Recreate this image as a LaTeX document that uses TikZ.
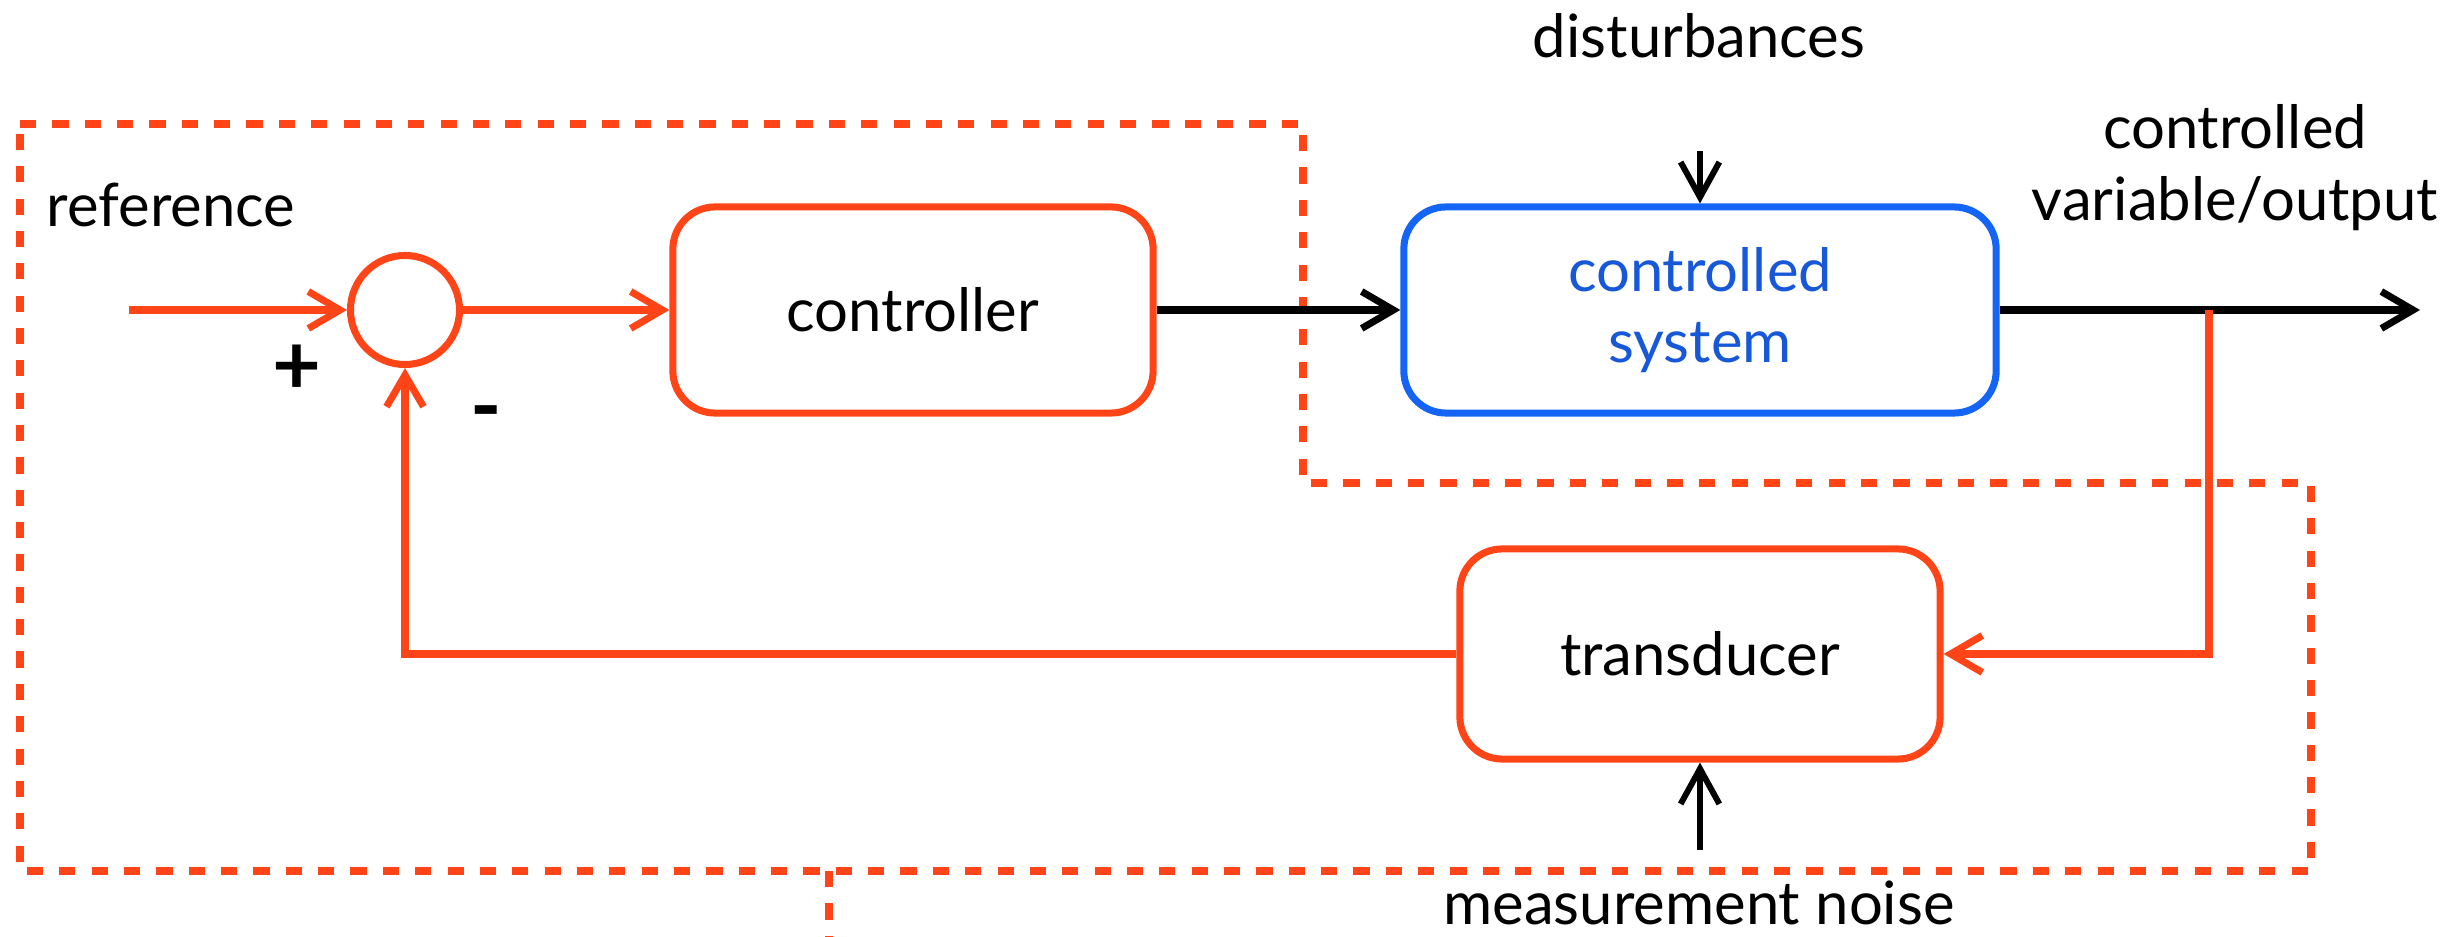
\documentclass[tikz,border=0pt]{standalone}
\usepackage{fontspec}
\setmainfont{Lato}
\usetikzlibrary{arrows.meta,positioning}
\definecolor{loopred}{RGB}{255,69,23}
\definecolor{plantblue}{RGB}{20,100,245}
\definecolor{planttext}{RGB}{22,88,215}

\begin{document}
\begin{tikzpicture}[x=0.01cm, y=-0.01cm,
	lbl/.style={font=\fontsize{17}{20.5}\selectfont, inner sep=0pt},
	block/.style={draw=loopred, line width=2pt, rounded corners=12pt, minimum width=4.8cm, minimum height=2.06cm, align=center, font=\fontsize{17}{20}\selectfont},
	sumnode/.style={circle, draw=loopred, line width=2pt, minimum size=1.09cm, inner sep=0pt},
	sig/.style={line width=2pt, -{Straight Barb[length=9pt, width=10.5pt]}},
	inflow/.style={line width=1.7pt, -{Straight Barb[length=10pt, width=11pt]}},
	frame/.style={draw=loopred, line width=2pt, dash pattern=on 4.6pt off 4.6pt},
	sign/.style={font=\fontsize{24}{24}\selectfont\bfseries, inner sep=0pt}]
	\useasboundingbox (0,0) rectangle (2462,937);
	% Dashed frame:
	\draw[frame] (20,124) -- (1303,124) -- (1303,483) -- (2311,483) -- (2311,871) -- (20,871) -- cycle;
	\draw[frame] (829,871) -- (829,937);
	% Blocks:
	\node[sumnode] (sum) at (405,310) {};
	\node[block] (ctrl) at (913,310) {controller};
	\node[block, draw=plantblue, text=planttext, minimum width=5.92cm] (plant) at (1700,310) {controlled\\system};
	\node[block, minimum height=2.1cm] (trans) at (1700,654) {transducer};
	% Free ends:
	\coordinate (refin) at (129,310);
	\coordinate (outend) at (2420,310);
	\coordinate (tap) at (2209,310);
	\coordinate (distin) at (1700,151);
	\coordinate (noisein) at (1700,850);
	% Labels:
	\node[lbl, anchor=base] (reflbl) at (171,227) {reference};
	\node[sign] (plus) at (297,370) {+};
	\node[sign] (minus) at (486,421) {-};
	\node[lbl, anchor=base] (distlbl) at (1699,58) {disturbances};
	\node[lbl, align=center] (outlbl) at (2235,168) {controlled\\variable/output};
	\node[lbl, anchor=base] (noiselbl) at (1699,925) {measurement noise};
	% Signals:
	\draw[sig, loopred] (refin) -- (sum);
	\draw[sig, loopred] (sum) -- (ctrl);
	\draw[sig] (ctrl) -- (plant);
	\draw[sig] (plant) -- (outend);
	\draw[inflow] (distin) -- (plant.north);
	\draw[inflow] (noisein) -- (trans.south);
	\draw[sig, loopred] (tap) |- (trans);
	\draw[sig, loopred] (trans) -| (sum);
\end{tikzpicture}
\end{document}
